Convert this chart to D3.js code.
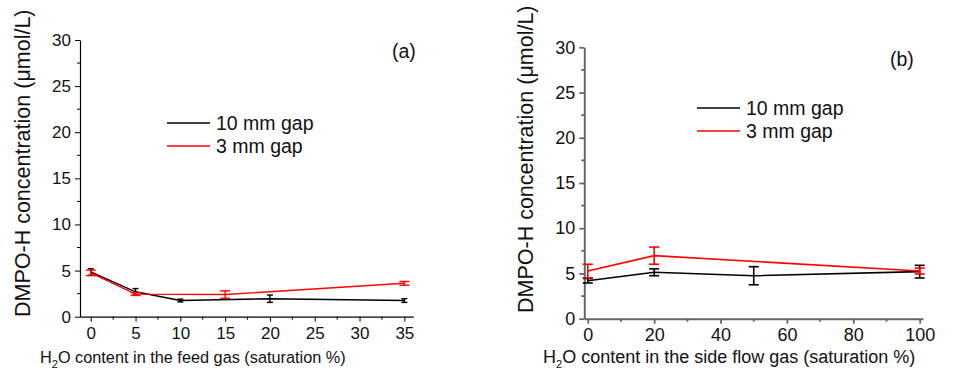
<!DOCTYPE html>
<html>
<head>
<meta charset="utf-8">
<script src="https://cdn.jsdelivr.net/npm/d3@7"></script>
<style>
  body { margin: 0; background: #fff; }
  svg { display: block; font-family: "Liberation Sans", Arial, sans-serif; }
</style>
</head>
<body>
<div id="container"></div>
<script>
// panel (a): feed gas humidity
const feedX10 = [0, 5, 10, 20, 35];
const feedY10 = [4.85, 2.7, 1.75, 1.95, 1.75];
const feedE10 = [0.35, 0.35, 0.15, 0.4, 0.2];
const feedX3 = [0, 5, 15, 35];
const feedY3 = [4.75, 2.45, 2.4, 3.62];
const feedE3 = [0.3, 0.15, 0.4, 0.2];

// panel (b): side flow gas humidity
const sideX10 = [0, 20, 50, 100];
const sideY10 = [4.2, 5.13, 4.75, 5.2];
const sideE10 = [0.25, 0.38, 1.0, 0.7];
const sideX3 = [0, 20, 100];
const sideY3 = [5.27, 6.97, 5.27];
const sideE3 = [0.75, 0.95, 0.33];

const yTicks = [0, 5, 10, 15, 20, 25, 30];
const feedTicks = [0, 5, 10, 15, 20, 25, 30, 35];
const sideTicks = [0, 20, 40, 60, 80, 100];
const seriesNames = ["10 mm gap", "3 mm gap"];

const W = 966, H = 381;
const svg = d3.select("#container").append("svg")
  .attr("width", W).attr("height", H);

function zip(xs, ys, es) {
  return xs.map((x, i) => ({ x: x, y: ys[i], e: es[i] }));
}

function makePanel(p) {
  const x = d3.scaleLinear().domain(p.xDom).range(p.xRange);
  const y = d3.scaleLinear().domain([0, 30]).range([p.y0, p.y30]);
  const g = svg.append("g");

  // minor ticks halfway between the labelled ones
  const step = p.xTicks[1] - p.xTicks[0];
  const minorX = p.xTicks.slice(0, -1).map(v => v + step / 2);
  const minorY = yTicks.slice(0, -1).map(v => v + 2.5);

  const xAxis = g.append("g")
    .attr("transform", `translate(0,${p.y0})`)
    .call(d3.axisBottom(x).tickValues(p.xTicks).tickSize(5).tickSizeOuter(0).tickPadding(5));
  xAxis.append("g").selectAll("line").data(minorX).join("line")
    .attr("x1", d => x(d)).attr("x2", d => x(d))
    .attr("y1", 0).attr("y2", 3);

  const yAxis = g.append("g")
    .attr("transform", `translate(${p.xRange[0]},0)`)
    .call(d3.axisLeft(y).tickValues(yTicks).tickSize(5).tickSizeOuter(0).tickPadding(4));
  yAxis.append("g").selectAll("line").data(minorY).join("line")
    .attr("y1", d => y(d)).attr("y2", d => y(d))
    .attr("x1", 0).attr("x2", -3);

  [xAxis, yAxis].forEach(a => {
    a.select(".domain").attr("stroke", p.axisColor).attr("stroke-width", p.axisWidth);
    a.selectAll("line").attr("stroke", p.axisColor).attr("stroke-width", p.axisWidth - 0.2);
    a.selectAll("text").attr("fill", "#111").style("font-size", p.tickFont + "px");
  });

  // series + error bars
  const series = [
    { data: zip(p.x10, p.y10, p.e10), color: "#000", cap: p.cap10 },
    { data: zip(p.x3, p.y3, p.e3), color: "#ff0000", cap: p.cap3 }
  ];
  series.forEach(s => {
    g.append("path").datum(s.data)
      .attr("fill", "none").attr("stroke", s.color).attr("stroke-width", p.lineW)
      .attr("d", d3.line().x(d => x(d.x)).y(d => y(d.y)));
    const eb = g.append("g").attr("stroke", s.color).attr("stroke-width", p.lineW);
    eb.selectAll(".v").data(s.data).join("line")
      .attr("x1", d => x(d.x)).attr("x2", d => x(d.x))
      .attr("y1", d => y(d.y - d.e)).attr("y2", d => y(d.y + d.e));
    eb.selectAll(".t").data(s.data).join("line")
      .attr("x1", d => x(d.x) - s.cap).attr("x2", d => x(d.x) + s.cap)
      .attr("y1", d => y(d.y + d.e)).attr("y2", d => y(d.y + d.e));
    eb.selectAll(".b").data(s.data).join("line")
      .attr("x1", d => x(d.x) - s.cap).attr("x2", d => x(d.x) + s.cap)
      .attr("y1", d => y(d.y - d.e)).attr("y2", d => y(d.y - d.e));
  });

  // legend
  seriesNames.forEach((name, i) => {
    const ly = p.legY + i * 23;
    g.append("line")
      .attr("x1", p.legX).attr("x2", p.legX + 43)
      .attr("y1", ly).attr("y2", ly)
      .attr("stroke", series[i].color).attr("stroke-width", p.lineW);
    g.append("text")
      .attr("x", p.legX + 49).attr("y", ly + 7)
      .style("font-size", "19.5px").attr("fill", "#111")
      .text(name);
  });

  // panel tag
  g.append("text").attr("x", p.tagX).attr("y", p.tagY)
    .style("font-size", "19.5px").attr("fill", "#111").text(p.tag);

  // y title, starting from the bottom
  g.append("text")
    .attr("transform", `translate(${p.yTitleX},${p.yTitleY}) rotate(-90)`)
    .style("font-size", p.yTitleFont + "px").attr("fill", "#111")
    .text("DMPO-H concentration (\u03bcmol/L)");

  // x title with subscript
  const t = g.append("text")
    .attr("x", p.xTitleX).attr("y", 363)
    .style("font-size", p.xTitleFont + "px").attr("fill", "#111");
  t.append("tspan").text("H");
  t.append("tspan").text("2").attr("dy", 5).style("font-size", "11px");
  t.append("tspan").text("O " + p.xTitle).attr("dy", -5);
}

makePanel({
  xDom: [-1.2, 36], xRange: [80, 413.3], y0: 316.7, y30: 40,
  xTicks: feedTicks,
  x10: feedX10, y10: feedY10, e10: feedE10,
  x3: feedX3, y3: feedY3, e3: feedE3,
  axisColor: "#000", axisWidth: 1.2, lineW: 1.4, tickFont: 17,
  cap10: 3, cap3: 5,
  legX: 167, legY: 123,
  tag: "(a)", tagX: 392, tagY: 58,
  yTitleX: 30, yTitleY: 317, yTitleFont: 21.5,
  xTitle: "content in the feed gas (saturation %)", xTitleX: 40, xTitleFont: 16.3
});

makePanel({
  xDom: [-1.05, 101], xRange: [584.3, 923], y0: 318.7, y30: 47.3,
  xTicks: sideTicks,
  x10: sideX10, y10: sideY10, e10: sideE10,
  x3: sideX3, y3: sideY3, e3: sideE3,
  axisColor: "#666", axisWidth: 2, lineW: 1.6, tickFont: 18,
  cap10: 5, cap3: 5,
  legX: 697, legY: 108,
  tag: "(b)", tagX: 890, tagY: 66,
  yTitleX: 533, yTitleY: 313, yTitleFont: 21.5,
  xTitle: "content in the side flow gas (saturation %)", xTitleX: 543, xTitleFont: 18
});
</script>
</body>
</html>
